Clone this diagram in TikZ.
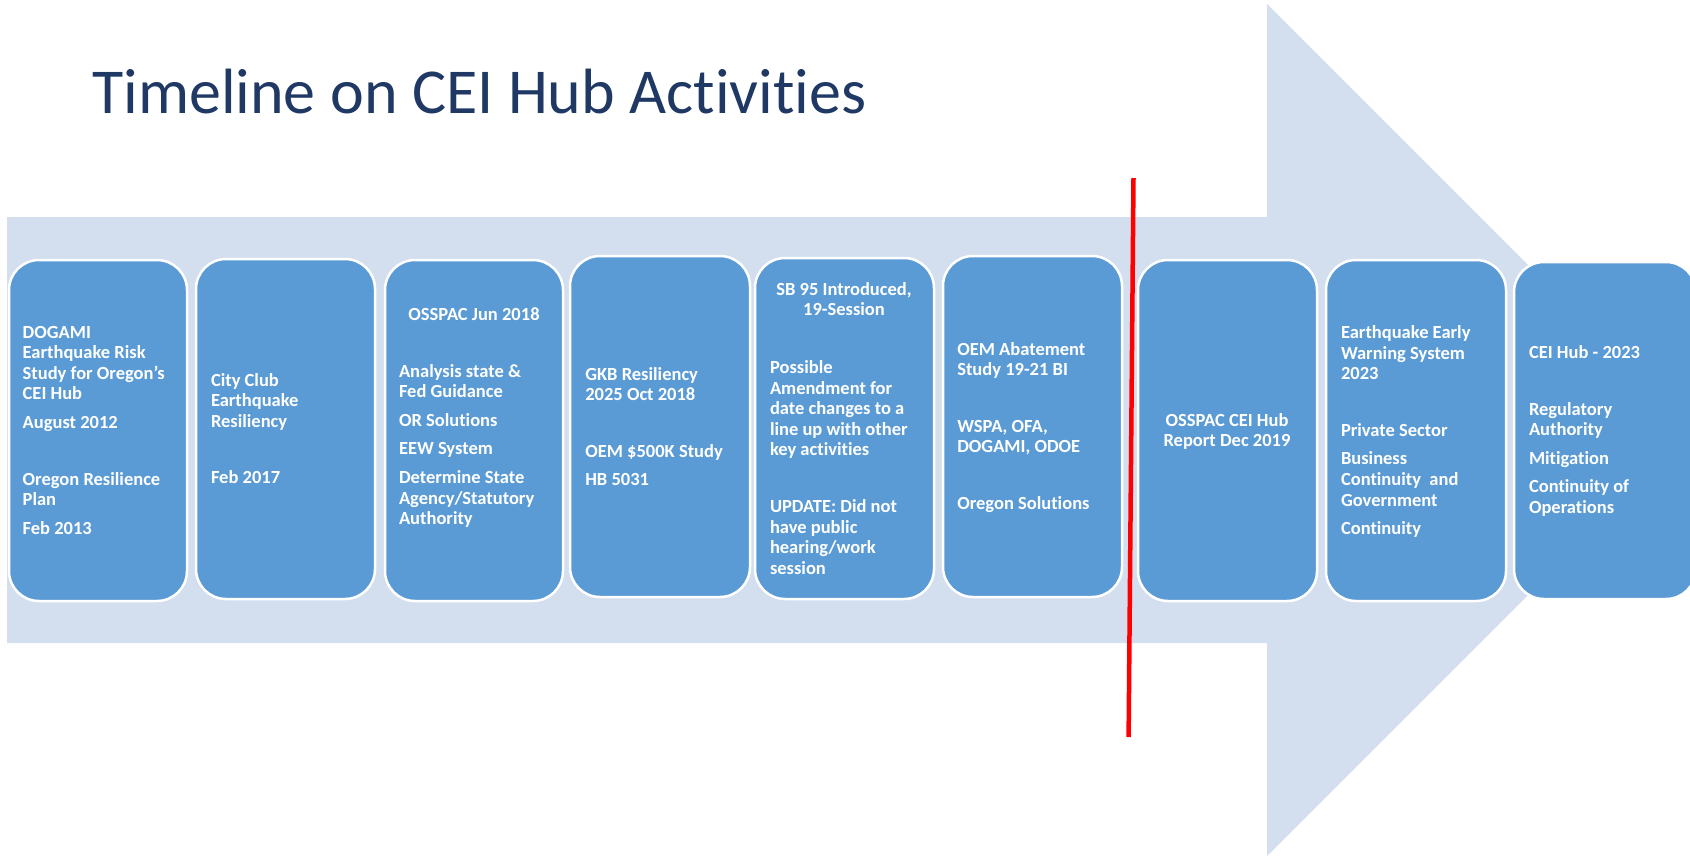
\documentclass[tikz,border=0pt]{standalone}
\usepackage{fontspec}
\setmainfont{Carlito}[Ligatures={NoCommon,NoContextual}]
\definecolor{arrowfill}{RGB}{211,222,239}
\definecolor{boxfill}{RGB}{91,155,213}
\definecolor{titlec}{RGB}{32,56,100}
\tikzset{
  box/.style={draw=white, line width=2.5pt, fill=boxfill, rounded corners=30pt,
    inner sep=0pt, outer sep=0pt, anchor=north west, minimum height=341pt},
  txt/.style={inner sep=0pt, outer sep=0pt, text=white,
    font=\fontsize{18.5}{20.6}\selectfont\bfseries, align=left, anchor=north west},
  ctxt/.style={txt, align=center, anchor=north},
  redline/.style={draw=red, line width=4.5pt},
}
\begin{document}
\begin{tikzpicture}[x=1pt,y=-1pt]
\useasboundingbox (0,0) rectangle (1690,855);
\clip (0,0) rectangle (1690,855);
% big arrow
\fill[arrowfill] (7,217) -- (1267,217) -- (1267,4) -- (1693,430) -- (1267,856) -- (1267,643) -- (7,643) -- cycle;
% title
\node[anchor=base west, inner sep=0pt, text=titlec, font=\fontsize{64}{77}\selectfont] (title) at (92,113) {Timeline on CEI Hub Activities};
% boxes
\node[box, minimum width=178pt] (b1) at (9,260) {};
\node[box, minimum width=179pt, minimum height=340pt] (b2) at (196,259) {};
\node[box, minimum width=178pt] (b3) at (385,260) {};
\node[box, minimum width=180pt] (b4) at (570,256) {};
\node[box, minimum width=179pt] (b5) at (755,258) {};
\node[box, minimum width=179pt] (b6) at (943,256) {};
\node[box, minimum width=179pt] (b7) at (1138,260) {};
\node[box, minimum width=180pt] (b8) at (1326,260) {};
\node[box, minimum width=182pt, minimum height=337pt] (b9) at (1514,262) {};
% texts
\node[txt] (t1) at (22.7,323.6) {\strut DOGAMI\\ Earthquake Risk\\ Study for Oregon’s\\ CEI Hub\\[8pt] August 2012\\[36pt] Oregon Resilience\\ Plan\\[8pt] Feb 2013};
\node[txt] (t2) at (211,371.6) {\strut City Club\\ Earthquake\\ Resiliency\\[36pt] Feb 2017};
\node[ctxt] (t3h) at (474,305.6) {\strut OSSPAC Jun 2018};
\node[txt] (t3) at (399,362.6) {\strut Analysis state \&\\ Fed Guidance\\[8pt] OR Solutions\\[8pt] EEW System\\[8pt] Determine State\\ Agency/Statutory\\ Authority};
\node[txt] (t4) at (585.3,365.6) {\strut GKB Resiliency\\ 2025 Oct 2018\\[36pt] OEM \$500K Study\\[8pt] HB 5031};
\node[ctxt] (t5h) at (844,280.6) {\strut SB 95 Introduced,\\ 19-Session};
\node[txt] (t5) at (770,359) {\strut Possible\\ Amendment for\\ date changes to a\\ line up with other\\ key activities\\[36pt] UPDATE: Did not\\ have public\\ hearing/work\\ session};
\node[txt] (t6) at (957.3,340.6) {\strut OEM Abatement\\ Study 19-21 BI\\[36pt] WSPA, OFA,\\ DOGAMI, ODOE\\[36pt] Oregon Solutions};
\node[ctxt] (t7) at (1227,411.6) {\strut OSSPAC CEI Hub\\ Report Dec 2019};
\node[txt] (t8) at (1341,324) {\strut Earthquake Early\\ Warning System\\ 2023\\[36pt] Private Sector\\[8pt] Business\\ Continuity\ \ and\\ Government\\[8pt] Continuity};
\node[txt] (t9) at (1529,344) {\strut CEI Hub - 2023\\[36pt] Regulatory\\ Authority\\[8pt] Mitigation\\[8pt] Continuity of\\ Operations};
% red divider
\coordinate (r1) at (1133.5,178);
\coordinate (r2) at (1128.6,737);
\draw[redline] (r1) -- (r2);
\end{tikzpicture}
\end{document}
